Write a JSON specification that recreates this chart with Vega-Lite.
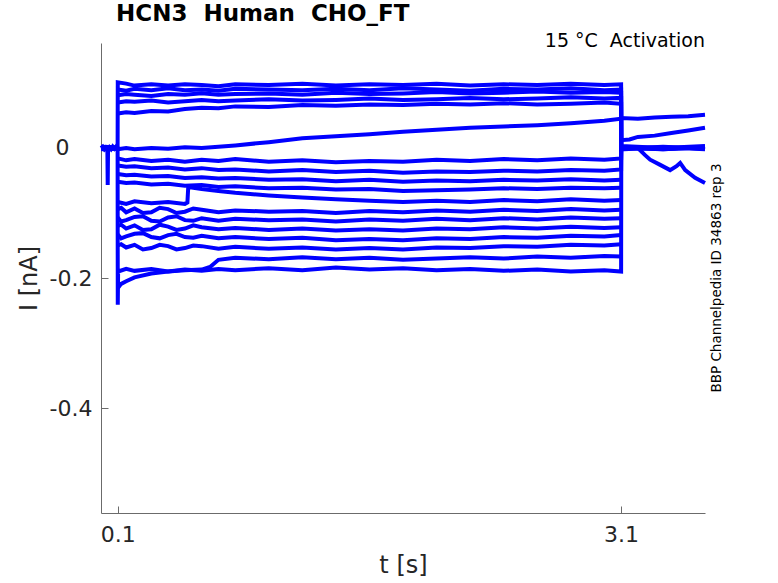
{
  "$schema": "https://vega.github.io/schema/vega-lite/v6.json",
  "width": 604,
  "height": 470,
  "autosize": {"type": "none"},
  "padding": {"left": 101, "top": 43, "right": 73, "bottom": 70},
  "background": "white",
  "title": {
    "text": "HCN3\u00a0 Human\u00a0 CHO_FT",
    "anchor": "start",
    "frame": "group",
    "dx": 15,
    "offset": 6,
    "font": "DejaVu Sans",
    "fontSize": 23,
    "fontWeight": "bold",
    "color": "#000000"
  },
  "config": {
    "view": {"stroke": null},
    "axis": {
      "grid": false,
      "domainColor": "#6b6b6b",
      "tickColor": "#6b6b6b",
      "labelFont": "DejaVu Sans",
      "titleFont": "DejaVu Sans",
      "labelColor": "#262626",
      "titleColor": "#262626",
      "labelFontSize": 22,
      "titleFontSize": 24,
      "titleFontWeight": "normal"
    }
  },
  "layer": [
    {
      "data": {
        "values": [
          {"k":0,"t":0,"v":0.000},{"k":0,"t":0.01,"v":0.002},{"k":0,"t":0.02,"v":-0.002},{"k":0,"t":0.03,"v":0.001},{"k":0,"t":0.038,"v":-0.001},{"k":0,"t":0.04,"v":-0.057},{"k":0,"t":0.042,"v":-0.002},{"k":0,"t":0.05,"v":0.001},{"k":0,"t":0.06,"v":-0.002},{"k":0,"t":0.07,"v":0.002},{"k":0,"t":0.08,"v":-0.001},{"k":0,"t":0.09,"v":0.002},{"k":0,"t":0.099,"v":0.000},

          {"k":1,"t":0,"v":0.002},{"k":1,"t":0.099,"v":0.001},{"k":1,"t":0.1,"v":0.101},{"k":1,"t":0.15,"v":0.099},{"k":1,"t":0.2,"v":0.096},{"k":1,"t":0.3,"v":0.098},{"k":1,"t":0.4,"v":0.096},{"k":1,"t":0.5,"v":0.098},{"k":1,"t":0.6,"v":0.097},{"k":1,"t":0.7,"v":0.095},{"k":1,"t":0.8,"v":0.098},{"k":1,"t":1.0,"v":0.097},{"k":1,"t":1.2,"v":0.099},{"k":1,"t":1.4,"v":0.096},{"k":1,"t":1.6,"v":0.098},{"k":1,"t":1.8,"v":0.097},{"k":1,"t":2.0,"v":0.099},{"k":1,"t":2.2,"v":0.096},{"k":1,"t":2.4,"v":0.098},{"k":1,"t":2.6,"v":0.097},{"k":1,"t":2.8,"v":0.099},{"k":1,"t":3.0,"v":0.097},{"k":1,"t":3.1,"v":0.098},{"k":1,"t":3.101,"v":0.012},{"k":1,"t":3.15,"v":0.013},{"k":1,"t":3.2,"v":0.017},{"k":1,"t":3.3,"v":0.019},{"k":1,"t":3.4,"v":0.023},{"k":1,"t":3.5,"v":0.027},{"k":1,"t":3.6,"v":0.031},

          {"k":2,"t":0.1,"v":0.090},{"k":2,"t":0.15,"v":0.088},{"k":2,"t":0.2,"v":0.091},{"k":2,"t":0.3,"v":0.089},{"k":2,"t":0.4,"v":0.092},{"k":2,"t":0.5,"v":0.089},{"k":2,"t":0.6,"v":0.090},{"k":2,"t":0.7,"v":0.088},{"k":2,"t":0.8,"v":0.091},{"k":2,"t":1.0,"v":0.090},{"k":2,"t":1.2,"v":0.089},{"k":2,"t":1.4,"v":0.091},{"k":2,"t":1.6,"v":0.089},{"k":2,"t":1.8,"v":0.092},{"k":2,"t":2.0,"v":0.090},{"k":2,"t":2.2,"v":0.088},{"k":2,"t":2.4,"v":0.091},{"k":2,"t":2.6,"v":0.090},{"k":2,"t":2.8,"v":0.092},{"k":2,"t":3.0,"v":0.089},{"k":2,"t":3.1,"v":0.090},{"k":2,"t":3.101,"v":0.002},{"k":2,"t":3.35,"v":-0.001},{"k":2,"t":3.6,"v":0.002},

          {"k":3,"t":0.1,"v":0.081},{"k":3,"t":0.15,"v":0.083},{"k":3,"t":0.2,"v":0.082},{"k":3,"t":0.3,"v":0.080},{"k":3,"t":0.4,"v":0.083},{"k":3,"t":0.5,"v":0.082},{"k":3,"t":0.6,"v":0.084},{"k":3,"t":0.7,"v":0.082},{"k":3,"t":0.8,"v":0.083},{"k":3,"t":1.0,"v":0.084},{"k":3,"t":1.2,"v":0.082},{"k":3,"t":1.4,"v":0.085},{"k":3,"t":1.6,"v":0.083},{"k":3,"t":1.8,"v":0.084},{"k":3,"t":2.0,"v":0.086},{"k":3,"t":2.2,"v":0.084},{"k":3,"t":2.4,"v":0.085},{"k":3,"t":2.6,"v":0.087},{"k":3,"t":2.8,"v":0.085},{"k":3,"t":3.0,"v":0.086},{"k":3,"t":3.1,"v":0.085},{"k":3,"t":3.101,"v":-0.002},{"k":3,"t":3.35,"v":0.001},{"k":3,"t":3.6,"v":-0.002},

          {"k":4,"t":0.1,"v":0.070},{"k":4,"t":0.15,"v":0.072},{"k":4,"t":0.2,"v":0.071},{"k":4,"t":0.3,"v":0.073},{"k":4,"t":0.4,"v":0.070},{"k":4,"t":0.5,"v":0.072},{"k":4,"t":0.6,"v":0.074},{"k":4,"t":0.7,"v":0.072},{"k":4,"t":0.8,"v":0.073},{"k":4,"t":1.0,"v":0.075},{"k":4,"t":1.2,"v":0.073},{"k":4,"t":1.4,"v":0.074},{"k":4,"t":1.6,"v":0.076},{"k":4,"t":1.8,"v":0.074},{"k":4,"t":2.0,"v":0.075},{"k":4,"t":2.2,"v":0.077},{"k":4,"t":2.4,"v":0.075},{"k":4,"t":2.6,"v":0.076},{"k":4,"t":2.8,"v":0.078},{"k":4,"t":3.0,"v":0.076},{"k":4,"t":3.1,"v":0.077},{"k":4,"t":3.101,"v":0.003},{"k":4,"t":3.35,"v":0.000},{"k":4,"t":3.6,"v":0.003},

          {"k":5,"t":0.1,"v":0.053},{"k":5,"t":0.15,"v":0.055},{"k":5,"t":0.2,"v":0.054},{"k":5,"t":0.3,"v":0.057},{"k":5,"t":0.4,"v":0.056},{"k":5,"t":0.5,"v":0.060},{"k":5,"t":0.6,"v":0.062},{"k":5,"t":0.7,"v":0.061},{"k":5,"t":0.8,"v":0.064},{"k":5,"t":1.0,"v":0.063},{"k":5,"t":1.2,"v":0.066},{"k":5,"t":1.4,"v":0.065},{"k":5,"t":1.6,"v":0.067},{"k":5,"t":1.8,"v":0.066},{"k":5,"t":2.0,"v":0.068},{"k":5,"t":2.2,"v":0.067},{"k":5,"t":2.4,"v":0.069},{"k":5,"t":2.6,"v":0.067},{"k":5,"t":2.8,"v":0.068},{"k":5,"t":3.0,"v":0.070},{"k":5,"t":3.1,"v":0.068},{"k":5,"t":3.101,"v":-0.001},{"k":5,"t":3.35,"v":0.002},{"k":5,"t":3.6,"v":-0.001},

          {"k":6,"t":0.1,"v":-0.002},{"k":6,"t":0.15,"v":0.000},{"k":6,"t":0.2,"v":-0.002},{"k":6,"t":0.3,"v":0.000},{"k":6,"t":0.4,"v":-0.001},{"k":6,"t":0.5,"v":0.001},{"k":6,"t":0.6,"v":0.000},{"k":6,"t":0.7,"v":0.002},{"k":6,"t":0.8,"v":0.004},{"k":6,"t":1.0,"v":0.009},{"k":6,"t":1.2,"v":0.015},{"k":6,"t":1.4,"v":0.018},{"k":6,"t":1.6,"v":0.021},{"k":6,"t":1.8,"v":0.025},{"k":6,"t":2.0,"v":0.028},{"k":6,"t":2.2,"v":0.031},{"k":6,"t":2.4,"v":0.033},{"k":6,"t":2.6,"v":0.035},{"k":6,"t":2.8,"v":0.038},{"k":6,"t":3.0,"v":0.042},{"k":6,"t":3.1,"v":0.045},{"k":6,"t":3.101,"v":0.046},{"k":6,"t":3.2,"v":0.045},{"k":6,"t":3.3,"v":0.047},{"k":6,"t":3.4,"v":0.048},{"k":6,"t":3.5,"v":0.049},{"k":6,"t":3.6,"v":0.051},

          {"k":7,"t":0.1,"v":-0.016},{"k":7,"t":0.15,"v":-0.019},{"k":7,"t":0.2,"v":-0.017},{"k":7,"t":0.3,"v":-0.020},{"k":7,"t":0.4,"v":-0.018},{"k":7,"t":0.5,"v":-0.021},{"k":7,"t":0.6,"v":-0.018},{"k":7,"t":0.7,"v":-0.020},{"k":7,"t":0.8,"v":-0.017},{"k":7,"t":1.0,"v":-0.021},{"k":7,"t":1.2,"v":-0.019},{"k":7,"t":1.4,"v":-0.022},{"k":7,"t":1.6,"v":-0.020},{"k":7,"t":1.8,"v":-0.021},{"k":7,"t":2.0,"v":-0.018},{"k":7,"t":2.2,"v":-0.020},{"k":7,"t":2.4,"v":-0.017},{"k":7,"t":2.6,"v":-0.019},{"k":7,"t":2.8,"v":-0.016},{"k":7,"t":3.0,"v":-0.018},{"k":7,"t":3.1,"v":-0.016},{"k":7,"t":3.101,"v":-0.001},{"k":7,"t":3.2,"v":0.000},{"k":7,"t":3.243,"v":-0.011},{"k":7,"t":3.273,"v":-0.018},{"k":7,"t":3.333,"v":-0.026},{"k":7,"t":3.392,"v":-0.034},{"k":7,"t":3.43,"v":-0.028},{"k":7,"t":3.452,"v":-0.023},{"k":7,"t":3.482,"v":-0.034},{"k":7,"t":3.541,"v":-0.046},{"k":7,"t":3.6,"v":-0.054},

          {"k":8,"t":0.1,"v":-0.027},{"k":8,"t":0.15,"v":-0.029},{"k":8,"t":0.2,"v":-0.028},{"k":8,"t":0.3,"v":-0.031},{"k":8,"t":0.4,"v":-0.030},{"k":8,"t":0.5,"v":-0.033},{"k":8,"t":0.6,"v":-0.031},{"k":8,"t":0.7,"v":-0.034},{"k":8,"t":0.8,"v":-0.033},{"k":8,"t":1.0,"v":-0.036},{"k":8,"t":1.2,"v":-0.034},{"k":8,"t":1.4,"v":-0.037},{"k":8,"t":1.6,"v":-0.035},{"k":8,"t":1.8,"v":-0.038},{"k":8,"t":2.0,"v":-0.036},{"k":8,"t":2.2,"v":-0.037},{"k":8,"t":2.4,"v":-0.035},{"k":8,"t":2.6,"v":-0.036},{"k":8,"t":2.8,"v":-0.034},{"k":8,"t":3.0,"v":-0.035},{"k":8,"t":3.1,"v":-0.033},{"k":8,"t":3.101,"v":0.001},{"k":8,"t":3.35,"v":-0.002},{"k":8,"t":3.6,"v":0.001},

          {"k":9,"t":0.1,"v":-0.040},{"k":9,"t":0.15,"v":-0.042},{"k":9,"t":0.2,"v":-0.041},{"k":9,"t":0.3,"v":-0.044},{"k":9,"t":0.4,"v":-0.043},{"k":9,"t":0.5,"v":-0.046},{"k":9,"t":0.6,"v":-0.045},{"k":9,"t":0.7,"v":-0.047},{"k":9,"t":0.8,"v":-0.046},{"k":9,"t":1.0,"v":-0.049},{"k":9,"t":1.2,"v":-0.048},{"k":9,"t":1.4,"v":-0.051},{"k":9,"t":1.6,"v":-0.049},{"k":9,"t":1.8,"v":-0.052},{"k":9,"t":2.0,"v":-0.050},{"k":9,"t":2.2,"v":-0.051},{"k":9,"t":2.4,"v":-0.049},{"k":9,"t":2.6,"v":-0.050},{"k":9,"t":2.8,"v":-0.048},{"k":9,"t":3.0,"v":-0.050},{"k":9,"t":3.1,"v":-0.049},

          {"k":10,"t":0.1,"v":-0.052},{"k":10,"t":0.15,"v":-0.054},{"k":10,"t":0.2,"v":-0.053},{"k":10,"t":0.3,"v":-0.056},{"k":10,"t":0.4,"v":-0.055},{"k":10,"t":0.5,"v":-0.058},{"k":10,"t":0.6,"v":-0.057},{"k":10,"t":0.7,"v":-0.060},{"k":10,"t":0.8,"v":-0.059},{"k":10,"t":1.0,"v":-0.062},{"k":10,"t":1.2,"v":-0.061},{"k":10,"t":1.4,"v":-0.064},{"k":10,"t":1.6,"v":-0.063},{"k":10,"t":1.8,"v":-0.066},{"k":10,"t":2.0,"v":-0.065},{"k":10,"t":2.2,"v":-0.064},{"k":10,"t":2.4,"v":-0.062},{"k":10,"t":2.6,"v":-0.063},{"k":10,"t":2.8,"v":-0.061},{"k":10,"t":3.0,"v":-0.062},{"k":10,"t":3.1,"v":-0.061},

          {"k":11,"t":0.1,"v":-0.083},{"k":11,"t":0.15,"v":-0.086},{"k":11,"t":0.2,"v":-0.082},{"k":11,"t":0.3,"v":-0.085},{"k":11,"t":0.4,"v":-0.083},{"k":11,"t":0.5,"v":-0.086},{"k":11,"t":0.515,"v":-0.084},{"k":11,"t":0.52,"v":-0.060},{"k":11,"t":0.6,"v":-0.063},{"k":11,"t":0.7,"v":-0.066},{"k":11,"t":0.8,"v":-0.069},{"k":11,"t":1.0,"v":-0.073},{"k":11,"t":1.2,"v":-0.076},{"k":11,"t":1.4,"v":-0.079},{"k":11,"t":1.6,"v":-0.081},{"k":11,"t":1.8,"v":-0.083},{"k":11,"t":2.0,"v":-0.081},{"k":11,"t":2.2,"v":-0.083},{"k":11,"t":2.4,"v":-0.080},{"k":11,"t":2.6,"v":-0.082},{"k":11,"t":2.8,"v":-0.079},{"k":11,"t":3.0,"v":-0.081},{"k":11,"t":3.1,"v":-0.080},

          {"k":12,"t":0.1,"v":-0.094},{"k":12,"t":0.12,"v":-0.092},{"k":12,"t":0.15,"v":-0.099},{"k":12,"t":0.2,"v":-0.093},{"k":12,"t":0.25,"v":-0.100},{"k":12,"t":0.3,"v":-0.099},{"k":12,"t":0.35,"v":-0.092},{"k":12,"t":0.4,"v":-0.094},{"k":12,"t":0.45,"v":-0.100},{"k":12,"t":0.5,"v":-0.098},{"k":12,"t":0.55,"v":-0.093},{"k":12,"t":0.6,"v":-0.095},{"k":12,"t":0.7,"v":-0.099},{"k":12,"t":0.8,"v":-0.096},{"k":12,"t":1.0,"v":-0.098},{"k":12,"t":1.2,"v":-0.097},{"k":12,"t":1.4,"v":-0.100},{"k":12,"t":1.6,"v":-0.097},{"k":12,"t":1.8,"v":-0.099},{"k":12,"t":2.0,"v":-0.096},{"k":12,"t":2.2,"v":-0.098},{"k":12,"t":2.4,"v":-0.095},{"k":12,"t":2.6,"v":-0.097},{"k":12,"t":2.8,"v":-0.094},{"k":12,"t":3.0,"v":-0.096},{"k":12,"t":3.1,"v":-0.095},

          {"k":13,"t":0.1,"v":-0.107},{"k":13,"t":0.12,"v":-0.113},{"k":13,"t":0.15,"v":-0.111},{"k":13,"t":0.2,"v":-0.106},{"k":13,"t":0.25,"v":-0.105},{"k":13,"t":0.3,"v":-0.112},{"k":13,"t":0.35,"v":-0.113},{"k":13,"t":0.4,"v":-0.107},{"k":13,"t":0.45,"v":-0.105},{"k":13,"t":0.5,"v":-0.111},{"k":13,"t":0.55,"v":-0.112},{"k":13,"t":0.6,"v":-0.108},{"k":13,"t":0.7,"v":-0.112},{"k":13,"t":0.8,"v":-0.109},{"k":13,"t":1.0,"v":-0.111},{"k":13,"t":1.2,"v":-0.110},{"k":13,"t":1.4,"v":-0.113},{"k":13,"t":1.6,"v":-0.110},{"k":13,"t":1.8,"v":-0.112},{"k":13,"t":2.0,"v":-0.109},{"k":13,"t":2.2,"v":-0.111},{"k":13,"t":2.4,"v":-0.108},{"k":13,"t":2.6,"v":-0.110},{"k":13,"t":2.8,"v":-0.107},{"k":13,"t":3.0,"v":-0.109},{"k":13,"t":3.1,"v":-0.108},

          {"k":14,"t":0.1,"v":-0.120},{"k":14,"t":0.12,"v":-0.118},{"k":14,"t":0.15,"v":-0.124},{"k":14,"t":0.2,"v":-0.119},{"k":14,"t":0.25,"v":-0.126},{"k":14,"t":0.3,"v":-0.125},{"k":14,"t":0.35,"v":-0.118},{"k":14,"t":0.4,"v":-0.121},{"k":14,"t":0.45,"v":-0.126},{"k":14,"t":0.5,"v":-0.124},{"k":14,"t":0.55,"v":-0.119},{"k":14,"t":0.6,"v":-0.122},{"k":14,"t":0.7,"v":-0.125},{"k":14,"t":0.8,"v":-0.123},{"k":14,"t":1.0,"v":-0.126},{"k":14,"t":1.2,"v":-0.124},{"k":14,"t":1.4,"v":-0.127},{"k":14,"t":1.6,"v":-0.125},{"k":14,"t":1.8,"v":-0.127},{"k":14,"t":2.0,"v":-0.124},{"k":14,"t":2.2,"v":-0.125},{"k":14,"t":2.4,"v":-0.122},{"k":14,"t":2.6,"v":-0.124},{"k":14,"t":2.8,"v":-0.121},{"k":14,"t":3.0,"v":-0.123},{"k":14,"t":3.1,"v":-0.122},

          {"k":15,"t":0.1,"v":-0.133},{"k":15,"t":0.12,"v":-0.139},{"k":15,"t":0.15,"v":-0.136},{"k":15,"t":0.2,"v":-0.132},{"k":15,"t":0.25,"v":-0.131},{"k":15,"t":0.3,"v":-0.137},{"k":15,"t":0.35,"v":-0.139},{"k":15,"t":0.4,"v":-0.134},{"k":15,"t":0.45,"v":-0.132},{"k":15,"t":0.5,"v":-0.137},{"k":15,"t":0.55,"v":-0.138},{"k":15,"t":0.6,"v":-0.135},{"k":15,"t":0.7,"v":-0.139},{"k":15,"t":0.8,"v":-0.137},{"k":15,"t":1.0,"v":-0.140},{"k":15,"t":1.2,"v":-0.138},{"k":15,"t":1.4,"v":-0.142},{"k":15,"t":1.6,"v":-0.140},{"k":15,"t":1.8,"v":-0.142},{"k":15,"t":2.0,"v":-0.139},{"k":15,"t":2.2,"v":-0.140},{"k":15,"t":2.4,"v":-0.137},{"k":15,"t":2.6,"v":-0.138},{"k":15,"t":2.8,"v":-0.135},{"k":15,"t":3.0,"v":-0.136},{"k":15,"t":3.1,"v":-0.134},

          {"k":16,"t":0.1,"v":-0.150},{"k":16,"t":0.12,"v":-0.148},{"k":16,"t":0.15,"v":-0.153},{"k":16,"t":0.2,"v":-0.149},{"k":16,"t":0.25,"v":-0.156},{"k":16,"t":0.3,"v":-0.154},{"k":16,"t":0.35,"v":-0.149},{"k":16,"t":0.4,"v":-0.151},{"k":16,"t":0.45,"v":-0.156},{"k":16,"t":0.5,"v":-0.154},{"k":16,"t":0.55,"v":-0.150},{"k":16,"t":0.6,"v":-0.151},{"k":16,"t":0.7,"v":-0.155},{"k":16,"t":0.8,"v":-0.152},{"k":16,"t":1.0,"v":-0.155},{"k":16,"t":1.2,"v":-0.153},{"k":16,"t":1.4,"v":-0.156},{"k":16,"t":1.6,"v":-0.154},{"k":16,"t":1.8,"v":-0.156},{"k":16,"t":2.0,"v":-0.153},{"k":16,"t":2.2,"v":-0.154},{"k":16,"t":2.4,"v":-0.151},{"k":16,"t":2.6,"v":-0.152},{"k":16,"t":2.8,"v":-0.149},{"k":16,"t":3.0,"v":-0.150},{"k":16,"t":3.1,"v":-0.148},

          {"k":17,"t":0.1,"v":-0.215},{"k":17,"t":0.105,"v":-0.214},{"k":17,"t":0.12,"v":-0.209},{"k":17,"t":0.15,"v":-0.205},{"k":17,"t":0.2,"v":-0.199},{"k":17,"t":0.3,"v":-0.193},{"k":17,"t":0.4,"v":-0.190},{"k":17,"t":0.5,"v":-0.188},{"k":17,"t":0.6,"v":-0.187},{"k":17,"t":0.65,"v":-0.183},{"k":17,"t":0.7,"v":-0.172},{"k":17,"t":0.8,"v":-0.169},{"k":17,"t":1.0,"v":-0.171},{"k":17,"t":1.2,"v":-0.168},{"k":17,"t":1.4,"v":-0.171},{"k":17,"t":1.6,"v":-0.169},{"k":17,"t":1.8,"v":-0.172},{"k":17,"t":2.0,"v":-0.170},{"k":17,"t":2.2,"v":-0.168},{"k":17,"t":2.4,"v":-0.170},{"k":17,"t":2.6,"v":-0.167},{"k":17,"t":2.8,"v":-0.169},{"k":17,"t":3.0,"v":-0.166},{"k":17,"t":3.1,"v":-0.167},

          {"k":18,"t":0,"v":-0.002},{"k":18,"t":0.099,"v":-0.001},{"k":18,"t":0.1,"v":-0.241},{"k":18,"t":0.102,"v":-0.190},{"k":18,"t":0.15,"v":-0.186},{"k":18,"t":0.2,"v":-0.189},{"k":18,"t":0.3,"v":-0.186},{"k":18,"t":0.4,"v":-0.190},{"k":18,"t":0.5,"v":-0.187},{"k":18,"t":0.6,"v":-0.189},{"k":18,"t":0.7,"v":-0.186},{"k":18,"t":0.8,"v":-0.188},{"k":18,"t":1.0,"v":-0.185},{"k":18,"t":1.2,"v":-0.188},{"k":18,"t":1.4,"v":-0.184},{"k":18,"t":1.6,"v":-0.187},{"k":18,"t":1.8,"v":-0.185},{"k":18,"t":2.0,"v":-0.188},{"k":18,"t":2.2,"v":-0.186},{"k":18,"t":2.4,"v":-0.189},{"k":18,"t":2.6,"v":-0.187},{"k":18,"t":2.8,"v":-0.190},{"k":18,"t":3.0,"v":-0.188},{"k":18,"t":3.1,"v":-0.190},{"k":18,"t":3.101,"v":0.000},{"k":18,"t":3.35,"v":-0.002},{"k":18,"t":3.6,"v":0.001}
        ]
      },
      "mark": {"type": "line", "color": "#0000ff", "strokeWidth": 4},
      "encoding": {
        "x": {
          "field": "t",
          "type": "quantitative",
          "scale": {"domain": [0, 3.6], "nice": false, "zero": false},
          "axis": {
            "title": "t [s]",
            "values": [0.1, 3.1],
            "format": ".1f",
            "tickSize": -7,
            "labelPadding": 18,
            "titlePadding": 8
          }
        },
        "y": {
          "field": "v",
          "type": "quantitative",
          "scale": {"domain": [-0.5615, 0.1615], "nice": false, "zero": false},
          "axis": {
            "title": "I [nA]",
            "values": [-0.4, -0.2, 0],
            "labelExpr": "datum.value == 0 ? '0' : (datum.value < -0.3 ? '-0.4' : '-0.2')",
            "tickSize": -7,
            "labelAlign": "right",
            "labelPadding": {"condition": {"test": "datum.value == 0", "value": 39}, "value": 16},
            "titlePadding": 8
          }
        },
        "detail": {"field": "k", "type": "nominal"}
      }
    },
    {
      "data": {"values": [{"t": 3.6, "v": 0.155, "s": "15 °C\u00a0 Activation"}]},
      "mark": {"type": "text", "align": "right", "baseline": "alphabetic", "font": "DejaVu Sans", "fontSize": 19, "color": "#000000"},
      "encoding": {
        "x": {"field": "t", "type": "quantitative"},
        "y": {"field": "v", "type": "quantitative"},
        "text": {"field": "s"}
      }
    },
    {
      "data": {"values": [{"t": 3.672, "v": -0.2, "s": "BBP Channelpedia ID 34863 rep 3"}]},
      "mark": {"type": "text", "angle": 270, "align": "center", "baseline": "middle", "font": "DejaVu Sans", "fontSize": 13.5, "color": "#000000"},
      "encoding": {
        "x": {"field": "t", "type": "quantitative"},
        "y": {"field": "v", "type": "quantitative"},
        "text": {"field": "s"}
      }
    }
  ]
}
